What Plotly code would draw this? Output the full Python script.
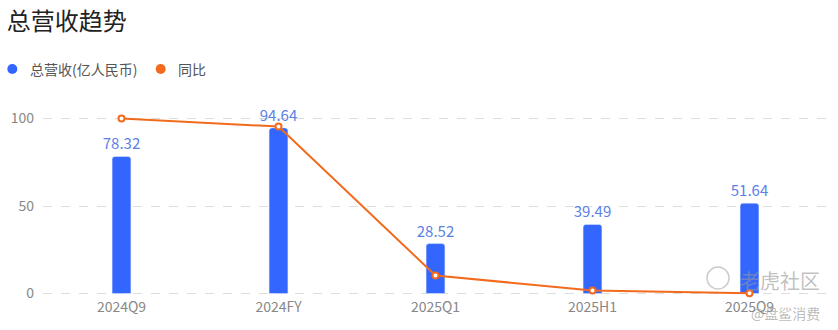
import plotly.graph_objects as go

categories = ["2024Q9", "2024FY", "2025Q1", "2025H1", "2025Q9"]
revenue = [78.32, 94.64, 28.52, 39.49, 51.64]
yoy = [100, 95.4, 10.3, 1.7, 0.2]
legend_names = ["总营收(亿人民币)", "同比"]

BLUE = "#3366FF"
ORANGE = "#F26B1D"
FONT = "Noto Sans CJK SC"

# plot-area geometry (pixels) used to place decoration in paper coords
L, T, W, H = 43, 115, 785, 182
def px(x):
    return (x - L) / W
def py(y):
    return (T + H - y) / H

fig = go.Figure()
fig.add_trace(go.Bar(
    x=categories, y=revenue, width=0.12,
    marker=dict(color=BLUE, cornerradius=3),
    text=[f"{v:.2f}" for v in revenue], textposition="outside", constraintext="none",
    textfont=dict(color="#5B7FE8", size=15, family=FONT),
    cliponaxis=False, showlegend=False, hoverinfo="x+y",
))
fig.add_trace(go.Scatter(
    x=categories, y=yoy, mode="lines+markers",
    line=dict(color=ORANGE, width=2),
    marker=dict(symbol="circle", size=6, color="white", line=dict(color=ORANGE, width=2)),
    cliponaxis=False, showlegend=False,
))

shapes = []
annotations = []
# custom legend
for name, color, dot_x, text_x in [(legend_names[0], BLUE, 12.3, 28), (legend_names[1], ORANGE, 160.7, 176)]:
    shapes.append(dict(type="circle", xref="paper", yref="paper",
                       xsizemode="pixel", ysizemode="pixel",
                       xanchor=px(dot_x), yanchor=py(69), x0=-5, x1=5, y0=-5, y1=5,
                       fillcolor=color, line=dict(width=0)))
    annotations.append(dict(text=name, x=px(text_x), y=py(69), xref="paper", yref="paper",
                            xanchor="left", yanchor="middle", showarrow=False,
                            font=dict(size=14, color="#555", family=FONT)))
# watermark
shapes.append(dict(type="circle", xref="paper", yref="paper",
                   xsizemode="pixel", ysizemode="pixel",
                   xanchor=px(718), yanchor=py(278), x0=-11, x1=11, y0=-11, y1=11,
                   line=dict(color="rgba(170,170,170,0.6)", width=1.5)))
annotations.append(dict(text="老虎社区", x=px(780), y=py(280), xref="paper", yref="paper",
                        xanchor="center", yanchor="middle", showarrow=False,
                        font=dict(size=20, color="rgba(150,150,150,0.6)", family=FONT)))
annotations.append(dict(text="@盘鲨消费", x=px(785), y=py(313), xref="paper", yref="paper",
                        xanchor="center", yanchor="middle", showarrow=False,
                        font=dict(size=14, color="rgba(150,150,150,0.65)", family=FONT)))

fig.update_layout(
    width=838, height=330,
    margin=dict(l=L, r=838 - L - W, t=T, b=330 - T - H, autoexpand=False),
    paper_bgcolor="white", plot_bgcolor="white",
    font=dict(family=FONT, color="#666"),
    showlegend=False,
    title=dict(text="总营收趋势", x=0.008, xref="container", y=0.935, yref="container",
               xanchor="left", yanchor="middle",
               font=dict(size=24, color="#222", family=FONT)),
    xaxis=dict(showline=False, showgrid=False, zeroline=False, ticks="", automargin=False,
               tickfont=dict(size=14, color="#888", family=FONT), ticklabelstandoff=0),
    yaxis=dict(range=[-2, 102], tickvals=[0, 50, 100], showline=False, zeroline=False,
               automargin=False,
               showgrid=True, gridcolor="#DDDDDD", griddash="dash", gridwidth=1,
               tickfont=dict(size=14, color="#888", family=FONT), ticklabelstandoff=8),
    bargap=0.5,
    shapes=shapes,
    annotations=annotations,
)

fig.write_html("out.html")
